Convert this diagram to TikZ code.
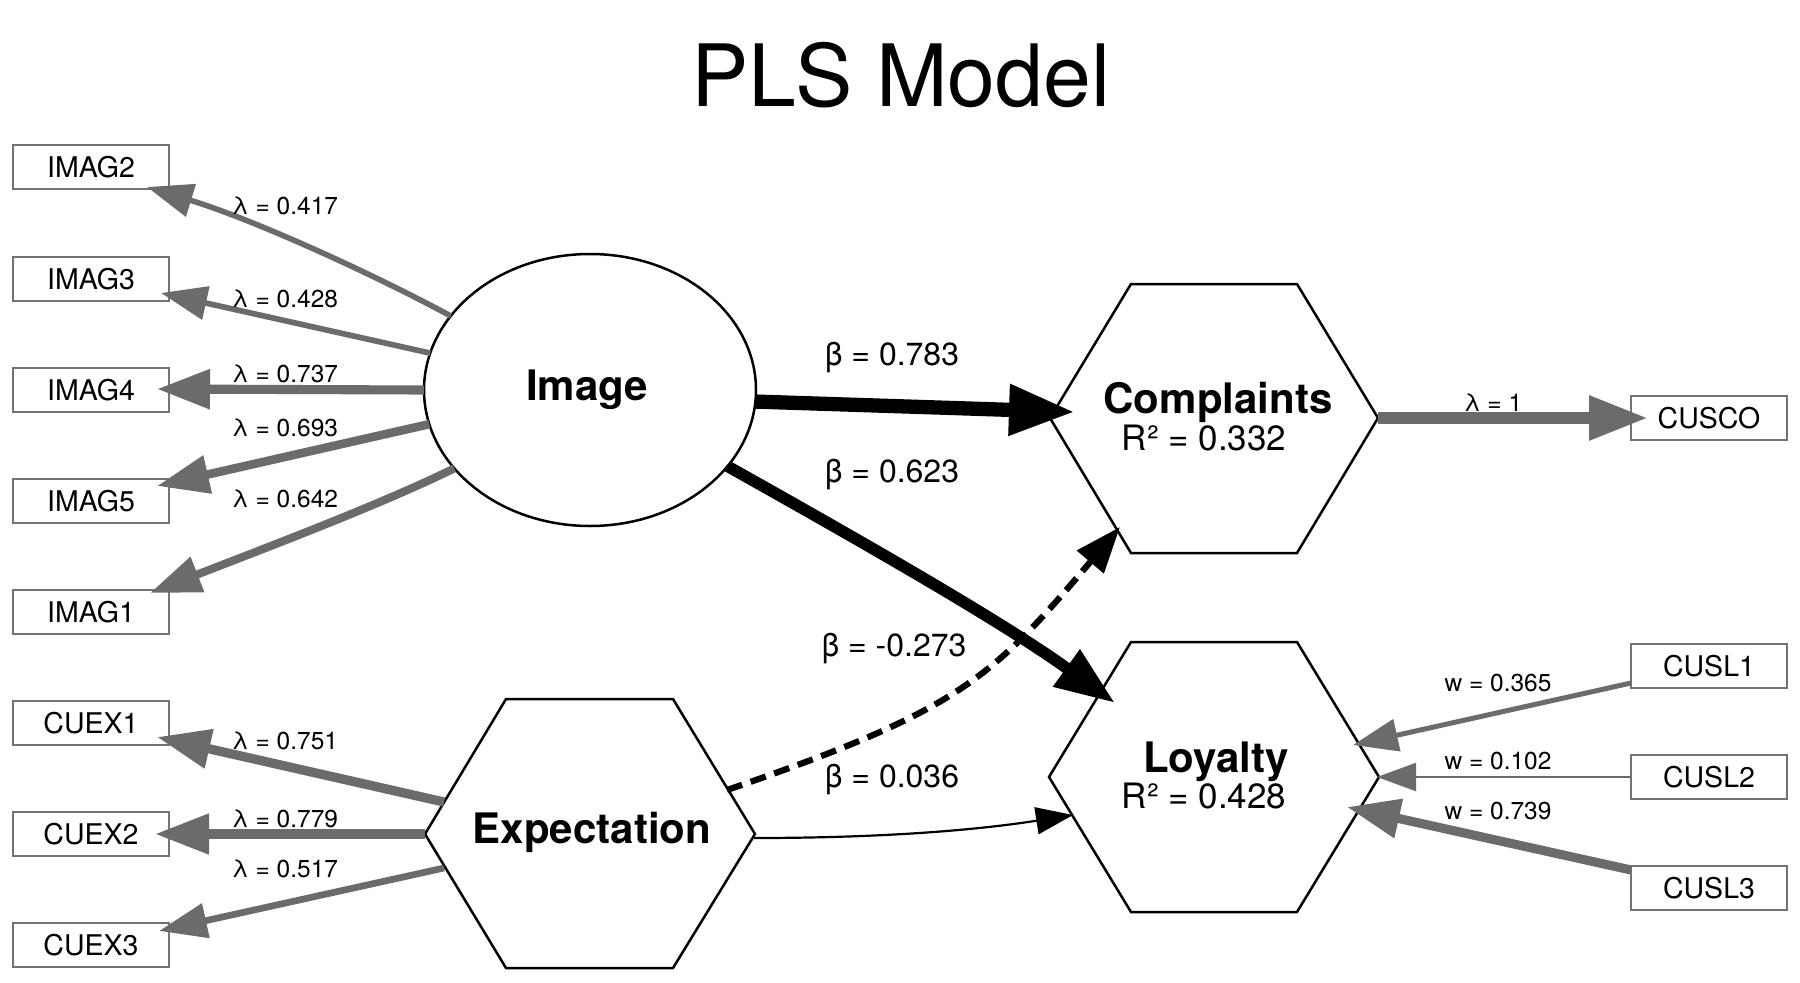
\documentclass[tikz,border=0pt]{standalone}
\usepackage{fontspec}
\setmainfont{TeX Gyre Heros}
\usetikzlibrary{arrows.meta,calc,shapes.geometric}
\definecolor{lg}{RGB}{107,107,107}
\definecolor{bg}{RGB}{115,115,115}
\begin{document}
\begin{tikzpicture}[x=1pt,y=-1pt,
  mbox/.style={draw=bg,line width=2.5pt,minimum width=156pt,minimum height=44pt,inner sep=0pt,outer sep=0pt,font=\fontsize{28.5}{30}\selectfont},
  lab/.style={font=\fontsize{24.5}{26}\selectfont,anchor=base,inner sep=0pt},
  blab/.style={font=\fontsize{32}{34}\selectfont,anchor=base,inner sep=0pt},
  rlab/.style={font=\fontsize{35}{37}\selectfont,anchor=base,inner sep=0pt},
  lvname/.style={font=\bfseries\fontsize{42}{44}\selectfont,anchor=base,inner sep=0pt},
  hexa/.style={draw=black,line width=2.5pt,line join=miter},
  load/.style n args={3}{draw=lg,line width=#1pt,arrows={-{Triangle[length=#2pt,width=#3pt]}}},
  struc/.style n args={3}{draw=black,line width=#1pt,arrows={-{Triangle[length=#2pt,width=#3pt]}}},
]
\useasboundingbox (0,0) rectangle (1800,983);

% title
\node[font=\fontsize{86}{90}\selectfont,anchor=base,inner sep=0pt] (title) at (901,106) {PLS Model};

% manifest boxes
\node[mbox] (IMAG2) at (91,167) {IMAG2};
\node[mbox] (IMAG3) at (91,279) {IMAG3};
\node[mbox] (IMAG4) at (91,390) {IMAG4};
\node[mbox] (IMAG5) at (91,501) {IMAG5};
\node[mbox] (IMAG1) at (91,612) {IMAG1};
\node[mbox] (CUEX1) at (91,723) {CUEX1};
\node[mbox] (CUEX2) at (91,834) {CUEX2};
\node[mbox] (CUEX3) at (91,945) {CUEX3};
\node[mbox] (CUSCO) at (1709,418) {CUSCO};
\node[mbox] (CUSL1) at (1709,666) {CUSL1};
\node[mbox] (CUSL2) at (1709,777) {CUSL2};
\node[mbox] (CUSL3) at (1709,888) {CUSL3};

% latent variables
\node[draw=black,ellipse,line width=2.5pt,minimum width=332pt,minimum height=272pt,inner sep=0pt,outer sep=0pt] (img) at (590,390) {};
\node[lvname] (imgtxt) at (587,400) {Image};

\coordinate (cpl) at (1214,418);
\draw[hexa] ($(cpl)+(-164,0)$) coordinate (cplW) -- ($(cpl)+(-83,-134)$) -- ($(cpl)+(83,-134)$) -- ($(cpl)+(164,0)$) coordinate (cplE) -- ($(cpl)+(83,135)$) -- ($(cpl)+(-83,135)$) -- cycle;
\node[lvname] (cpltxt) at (1218,413) {Complaints};
\node[rlab] (cplr) at (1204,450) {R² = 0.332};

\coordinate (loy) at (1214,777);
\draw[hexa] ($(loy)+(-165,0)$) coordinate (loyW) -- ($(loy)+(-83,-135)$) -- ($(loy)+(83,-135)$) -- ($(loy)+(165,0)$) coordinate (loyE) -- ($(loy)+(83,135)$) -- ($(loy)+(-83,135)$) -- cycle;
\node[lvname] (loytxt) at (1216,772) {Loyalty};
\node[rlab] (loyr) at (1204,808) {R² = 0.428};

\coordinate (exp) at (590,834);
\draw[hexa] ($(exp)+(-165,0)$) coordinate (expW) -- ($(exp)+(-84,-135)$) -- ($(exp)+(83,-135)$) -- ($(exp)+(165,0)$) coordinate (expE) -- ($(exp)+(83,134)$) -- ($(exp)+(-84,134)$) -- cycle;
\node[lvname] (exptxt) at (592,843) {Expectation};

% loadings of Image
\draw[load={5.6}{46}{33}] (img.152) .. controls (375,275) and (255,220) .. ($(IMAG2.south east)+(-22,-2)$);
\draw[load={5.7}{46}{33}] (img.167) -- ($(IMAG3.south east)+(-8,-8)$);
\draw[load={9.1}{53}{38}] (img.180) -- ($(IMAG4.east)+(-12,-1)$);
\draw[load={8.6}{52}{37}] (img.192) -- ($(IMAG5.north east)+(-12,7)$);
\draw[load={8.1}{51}{36}] (img.210) .. controls (380,505) and (260,550) .. ($(IMAG1.north east)+(-19,3)$);

% loadings of Expectation
\draw[load={9.3}{53.5}{38}] ($(expW)+(19,-32)$) -- ($(CUEX1.east)+(-12,14)$);
\draw[load={9.6}{54}{38.5}] (expW) -- ($(CUEX2.east)+(-14,0)$);
\draw[load={6.7}{48}{34}] ($(expW)+(19,34)$) -- ($(CUEX3.east)+(-10,-14)$);

% Complaints
\draw[load={12}{59}{42}] (cplE) -- ($(CUSCO.west)+(17,0)$);

% Loyalty weights
\draw[load={5}{45}{32}] ($(CUSL1.west)+(0,17)$) -- ($(loyE)+(-26,-32)$);
\draw[load={2.1}{39}{28}] (CUSL2.west) -- ($(loyE)+(-2,0)$);
\draw[load={9.1}{53}{38}] ($(CUSL3.west)+(0,-18)$) -- ($(loyE)+(-32,30)$);

% structural paths
\draw[struc={14.3}{66}{48}] (img.356) -- ($(cplW)+(25,-6)$);
\draw[struc={11.6}{60}{43}] (img.331) .. controls (850,535) and (1000,620) .. ($(loyW)+(66,-74)$);
\draw[struc={6.2}{46}{34},dash pattern=on 16pt off 9pt] ($(expE)+(-28,-44)$) .. controls (960,710) and (990,680) .. ($(cplW)+(70,109)$);
\draw[struc={2.2}{37}{27}] ($(expE)+(-1,4)$) .. controls (900,838) and (990,828) .. ($(loyW)+(24,38)$);

% labels
\node[lab] (l1) at (285,214) {λ = 0.417};
\node[lab] (l2) at (285,307) {λ = 0.428};
\node[lab] (l3) at (285,382) {λ = 0.737};
\node[lab] (l4) at (285,436) {λ = 0.693};
\node[lab] (l5) at (285,507) {λ = 0.642};
\node[lab] (l6) at (285,749) {λ = 0.751};
\node[lab] (l7) at (285,827) {λ = 0.779};
\node[lab] (l8) at (285,877) {λ = 0.517};
\node[lab] (l9) at (1493,411) {λ = 1};
\node[lab] (w1) at (1498,691) {w = 0.365};
\node[lab] (w2) at (1498,769) {w = 0.102};
\node[lab] (w3) at (1498,819) {w = 0.739};
\node[blab] (b1) at (892,365) {β = 0.783};
\node[blab] (b2) at (892,482) {β = 0.623};
\node[blab] (b3) at (894,656) {β = -0.273};
\node[blab] (b4) at (892,787) {β = 0.036};
\end{tikzpicture}
\end{document}
